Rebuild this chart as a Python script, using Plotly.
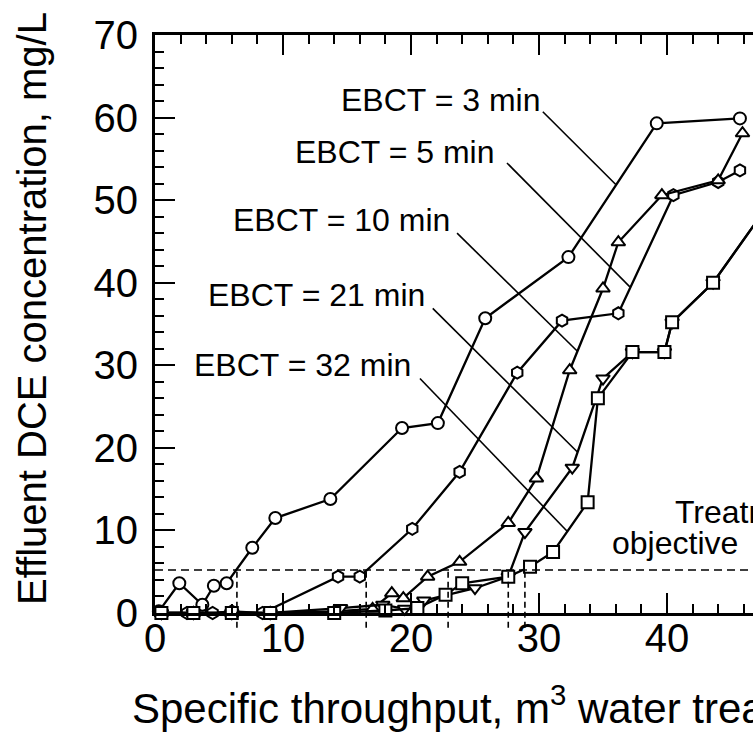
import plotly.graph_objects as go

# Breakthrough data: effluent DCE (mg/L) vs specific throughput for each EBCT
x_3 = [0.3, 1.9, 3.7, 4.6, 5.6, 7.6, 9.4, 13.7, 19.3, 22.1, 25.8, 32.3, 39.2, 45.7]
y_3 = [0.2, 3.6, 1.0, 3.3, 3.6, 7.9, 11.5, 13.8, 22.4, 23.0, 35.7, 43.1, 59.3, 59.9]

x_5 = [0.5, 2.5, 4.5, 6.0, 8.4, 14.3, 16.0, 20.1, 23.8, 28.3, 31.8, 36.2, 40.5, 44.0, 45.7]
y_5 = [0.0, 0.0, 0.0, 0.2, 0.0, 4.4, 4.4, 10.2, 17.1, 29.1, 35.4, 36.3, 50.6, 52.2, 53.6]

x_10 = [0.5, 3.0, 6.0, 9.0, 14.0, 17.0, 18.5, 19.4, 21.3, 23.8, 27.6, 29.8, 32.4, 35.0, 36.2, 39.6, 44.0, 45.9]
y_10 = [0.0, 0.0, 0.0, 0.0, 0.2, 0.5, 2.4, 1.8, 4.4, 6.2, 10.9, 16.3, 29.4, 39.3, 44.9, 50.6, 52.4, 58.1]

x_21 = [0.5, 3.0, 6.0, 9.0, 14.5, 17.8, 19.5, 21.0, 25.0, 27.6, 28.9, 32.6, 35.0, 37.3, 39.8, 40.4, 43.6, 47.5]
y_21 = [0.0, 0.0, 0.0, 0.0, 0.6, 1.0, 0.5, 1.5, 3.0, 4.4, 9.8, 17.6, 28.4, 31.6, 31.6, 35.2, 40.0, 48.5]

x_32 = [0.5, 3.0, 6.0, 9.0, 14.0, 18.0, 20.5, 22.7, 24.0, 27.6, 29.3, 31.1, 33.8, 34.6, 37.3, 39.8, 40.4, 43.6, 47.5]
y_32 = [0.0, 0.0, 0.0, 0.0, 0.0, 0.3, 0.6, 2.2, 3.6, 4.4, 5.6, 7.4, 13.4, 26.0, 31.6, 31.6, 35.2, 40.0, 48.5]

ebct_labels = ["EBCT = 3 min", "EBCT = 5 min", "EBCT = 10 min", "EBCT = 21 min", "EBCT = 32 min"]
symbols = ["circle", "hexagon", "triangle-up", "triangle-down", "square"]

objective = 5.2                      # treatment objective, mg/L
crossings = [6.4, 16.5, 22.9, 27.6, 28.9]   # throughput where each curve reaches the objective

x_ticks = [0, 10, 20, 30, 40]
y_ticks = [0, 10, 20, 30, 40, 50, 60, 70]

X_MAX = 46.72
Y_MAX = 70

FONT = "Liberation Sans, Arial, Helvetica, sans-serif"

fig = go.Figure()

series = [(x_3, y_3), (x_5, y_5), (x_10, y_10), (x_21, y_21), (x_32, y_32)]
for (xs, ys), name, sym in zip(series, ebct_labels, symbols):
    fig.add_trace(go.Scatter(
        x=xs, y=ys, mode="lines+markers", name=name,
        line=dict(color="black", width=2.3),
        marker=dict(symbol=sym, size=12, color="white",
                    line=dict(color="black", width=2)),
        cliponaxis=False, showlegend=False,
    ))

shapes = []
# treatment objective line
shapes.append(dict(type="line", xref="x", yref="y", x0=0, x1=X_MAX,
                   y0=objective, y1=objective,
                   line=dict(color="black", width=1.6, dash="8px,5px")))
# drop lines from each crossing down past the axis
for xc in crossings:
    shapes.append(dict(type="line", xref="x", yref="paper", x0=xc, x1=xc,
                       y0=-1.8 / Y_MAX, y1=objective / Y_MAX,
                       line=dict(color="black", width=1.6, dash="6px,4px")))

# label positions (text centre) and leader-line ends, in data units
label_pos = [(22.3, 62.1), (18.7, 55.8), (14.6, 47.6), (12.6, 38.5), (11.5, 30.0)]
leaders = [((30.3, 60.7), (36.0, 51.9)),
           ((27.5, 54.5), (37.1, 39.5)),
           ((23.6, 46.0), (33.0, 31.7)),
           ((21.7, 36.9), (33.0, 19.5)),
           ((20.7, 28.4), (32.2, 9.9))]
for (p0, p1) in leaders:
    shapes.append(dict(type="line", xref="x", yref="y",
                       x0=p0[0], y0=p0[1], x1=p1[0], y1=p1[1],
                       line=dict(color="black", width=1.6)))

annotations = []
for text, (lx, ly) in zip(ebct_labels, label_pos):
    annotations.append(dict(x=lx, y=ly, xref="x", yref="y", text=text,
                            showarrow=False, xanchor="center", yanchor="middle",
                            font=dict(family=FONT, size=32, color="black")))

annotations.append(dict(x=(673 - 155) / 598, y=(613 - 512) / 578, xref="paper", yref="paper",
                        text="Treatment", showarrow=False, xanchor="left", yanchor="middle",
                        font=dict(family=FONT, size=32, color="black")))
annotations.append(dict(x=(610 - 155) / 598, y=(613 - 543) / 578, xref="paper", yref="paper",
                        text="objective", showarrow=False, xanchor="left", yanchor="middle",
                        font=dict(family=FONT, size=32, color="black")))

# axis titles
annotations.append(dict(x=(130 - 155) / 598, y=(613 - 705) / 578, xref="paper", yref="paper",
                        text="Specific throughput, m<sup>3</sup> water treated/kg GAC",
                        showarrow=False, xanchor="left", yanchor="middle",
                        font=dict(family=FONT, size=42, color="black")))
annotations.append(dict(x=(32 - 155) / 598, y=(613 - 309) / 578, xref="paper", yref="paper",
                        text="Effluent DCE concentration, mg/L", textangle=-90,
                        showarrow=False, xanchor="center", yanchor="middle",
                        font=dict(family=FONT, size=40, color="black")))

fig.update_layout(
    width=753, height=754,
    margin=dict(l=155, r=0, t=35, b=141),
    plot_bgcolor="white", paper_bgcolor="white",
    shapes=shapes, annotations=annotations,
    font=dict(family=FONT, color="black"),
)

fig.update_xaxes(
    range=[0, X_MAX], tickvals=x_ticks, ticktext=[str(v) for v in x_ticks],
    ticks="inside", ticklen=20, tickwidth=1.5, tickcolor="black",
    minor=dict(dtick=2, ticks="inside", ticklen=9, tickwidth=1.5, tickcolor="black"),
    showline=True, linewidth=3, linecolor="black", mirror="ticks",
    showgrid=False, zeroline=False, ticklabelstandoff=-12,
    tickfont=dict(family=FONT, size=40, color="black"),
)
fig.update_yaxes(
    range=[0, Y_MAX], tickvals=y_ticks, ticktext=[str(v) for v in y_ticks],
    ticks="inside", ticklen=20, tickwidth=1.5, tickcolor="black",
    minor=dict(dtick=2, ticks="inside", ticklen=9, tickwidth=1.5, tickcolor="black"),
    showline=True, linewidth=3, linecolor="black", mirror=False,
    showgrid=False, zeroline=False, ticklabelstandoff=6,
    tickfont=dict(family=FONT, size=40, color="black"),
)

fig.write_html("out.html")
